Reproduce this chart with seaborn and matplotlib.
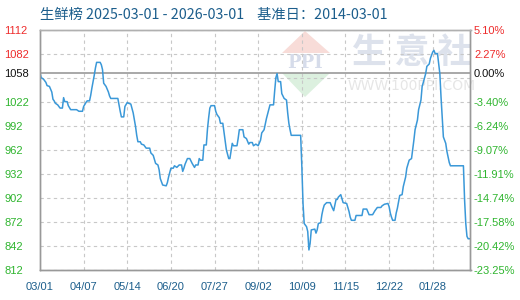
import matplotlib
matplotlib.use("Agg")
import matplotlib.pyplot as plt
import matplotlib.patches as mpatches
import numpy as np
import pandas as pd
import seaborn as sns

# ---------------- data ----------------
start_date = "2025-03-01"
end_date = "2026-03-01"
base_value = 1058
title_text = "生鲜榜 2025-03-01 - 2026-03-01    基准日：2014-03-01"

day_offset = [0, 1, 3, 5, 6, 8, 10, 11, 12, 13, 15, 17, 19, 20, 21, 23, 24, 26, 29, 31,
              33, 36, 37, 39, 40, 42, 43, 44, 45, 46, 47, 48, 51, 52, 53, 54, 56, 58, 59, 60,
              66, 67, 68, 69, 71, 72, 74, 75, 77, 79, 81, 82, 83, 85, 86, 88, 90, 93, 94, 96,
              98, 100, 101, 102, 104, 107, 108, 109, 111, 113, 114, 116, 118, 120, 121, 122, 123, 125, 127, 129,
              131, 132, 134, 135, 136, 138, 139, 141, 142, 143, 144, 145, 148, 149, 150, 152, 153, 155, 156, 157,
              158, 160, 161, 163, 164, 167, 168, 169, 172, 173, 175, 177, 178, 180, 181, 183, 185, 187, 188, 190,
              192, 194, 195, 198, 199, 200, 201, 202, 204, 205, 207, 209, 210, 211, 212, 213, 221, 222, 223, 224,
              226, 227, 228, 229, 230, 233, 234, 235, 236, 238, 239, 240, 241, 243, 246, 248, 249, 250, 251, 252,
              253, 255, 256, 257, 260, 262, 263, 264, 267, 268, 273, 274, 277, 279, 282, 284, 286, 289, 290, 292,
              295, 296, 297, 298, 299, 301, 302, 303, 305, 307, 308, 310, 311, 313, 315, 317, 318, 320, 321, 323,
              324, 325, 327, 328, 330, 331, 333, 334, 335, 337, 339, 340, 341, 342, 344, 345, 347, 348, 359, 360,
              361, 362, 363, 365]

price = [1058, 1052, 1050, 1046, 1042, 1041, 1034, 1025, 1023, 1020, 1018, 1014, 1014, 1027, 1022, 1022, 1017, 1012, 1012, 1012,
         1010, 1010, 1016, 1021, 1023, 1023, 1030, 1039, 1047, 1055, 1064, 1071, 1071, 1068, 1062, 1045, 1041, 1034, 1029, 1026,
         1026, 1018, 1010, 1003, 1003, 1016, 1021, 1020, 1019, 1008, 991, 980, 972, 972, 969, 968, 964, 964, 958, 955,
         945, 943, 937, 926, 918, 917, 921, 928, 939, 939, 942, 940, 943, 943, 935, 939, 944, 951, 951, 945,
         940, 943, 943, 951, 949, 949, 968, 968, 988, 1002, 1014, 1017, 1017, 1010, 1006, 1002, 995, 995, 984, 972,
         962, 951, 951, 970, 967, 967, 976, 987, 987, 978, 976, 969, 971, 971, 967, 969, 967, 974, 983, 987,
         1001, 1012, 1018, 1018, 1036, 1052, 1057, 1047, 1047, 1032, 1026, 1024, 1008, 995, 987, 980, 980, 941, 895, 870,
         866, 860, 837, 845, 862, 863, 858, 862, 870, 871, 881, 888, 893, 896, 896, 889, 886, 893, 900, 900,
         903, 906, 901, 896, 895, 885, 878, 874, 874, 880, 880, 888, 888, 881, 881, 886, 890, 890, 892, 894,
         895, 891, 883, 878, 874, 874, 883, 889, 905, 906, 916, 928, 939, 949, 951, 974, 987, 999, 1012, 1024,
         1041, 1046, 1057, 1066, 1069, 1076, 1084, 1086, 1082, 1082, 1057, 1028, 1003, 978, 970, 960, 946, 942, 942, 899,
         870, 854, 851, 851]

ytick_values = [1112, 1082, 1058, 1022, 992, 962, 932, 902, 872, 842, 812]
ygrid_values = [1112, 1082, 1052, 1022, 992, 962, 932, 902, 872, 842, 812]
xtick_labels = ["03/01", "04/07", "05/14", "06/20", "07/27", "09/02", "10/09", "11/15", "12/22", "01/28"]
xtick_step_days = 37
watermark_text = "生 意 社"
watermark_url = "WWW.100PPI.COM"
logo_text = "PPI"

assert len(day_offset) == len(price)

# ---------------- styling constants ----------------
W, H, DPI = 520, 300, 100
RED = "#ee2c2c"
GREEN = "#2fb52f"
BLACK = "#111111"
BLUE_TXT = "#1c5e8c"
LINE = "#3a98d8"
GRID = "#c8c8c8"
AXIS = "#999999"
CJK = ["Noto Sans CJK SC", "DejaVu Sans"]

sns.set_theme(style="white")
plt.rcParams["font.family"] = ["Liberation Sans", "DejaVu Sans"]

t0 = pd.Timestamp(start_date)
df = pd.DataFrame({
    "date": t0 + pd.to_timedelta(day_offset, unit="D"),
    "price": price,
})

fig = plt.figure(figsize=(W / DPI, H / DPI), dpi=DPI)
ax = fig.add_axes([40 / W, 1 - 270 / H, (470.5 - 40) / W, (270 - 29.5) / H])
ax.set_facecolor("white")

wm_tr = fig.transFigure
def fx(px):
    return px / W
def fy(py):
    return 1 - py / H

# watermark (behind everything)
ax.text(fx(412), fy(52), watermark_text, transform=wm_tr, ha="center", va="center",
        fontsize=25, fontweight="bold", color="#dde2ec", family=CJK, zorder=0)
ax.text(fx(412), fy(86), watermark_url, transform=wm_tr, ha="center", va="center",
        fontsize=10, color="#e6e6e6", family=["DejaVu Sans"], zorder=0)
red_tri = mpatches.Polygon([(fx(282), fy(53)), (fx(330), fy(53)), (fx(305), fy(31))],
                           closed=True, transform=wm_tr, facecolor="#f8dcd8", edgecolor="none", zorder=0)
green_tri = mpatches.Polygon([(fx(282), fy(73)), (fx(330), fy(73)), (fx(305), fy(97))],
                             closed=True, transform=wm_tr, facecolor="#dcf0df", edgecolor="none", zorder=0)
ax.add_patch(red_tri)
ax.add_patch(green_tri)
ax.text(fx(305), fy(63), logo_text, transform=wm_tr, ha="center", va="center",
        fontsize=13, fontweight="bold", color="#d6dcea", family=["DejaVu Serif"], zorder=0)

# grid lines
for g in ygrid_values:
    ax.axhline(g, color=GRID, lw=0.8, ls=(0, (3, 3)), zorder=0.5)
xtick_dates = [t0 + pd.Timedelta(days=xtick_step_days * i) for i in range(len(xtick_labels))]
for d in xtick_dates[1:]:
    ax.axvline(d, color=GRID, lw=0.8, ls=(0, (3, 3)), zorder=0.5)

# base line
ax.axhline(base_value, color=AXIS, lw=1.2, zorder=1)

# data line
sns.lineplot(data=df, x="date", y="price", ax=ax, color=LINE, lw=1.1, zorder=3)

ax.set_xlim(t0, pd.Timestamp(end_date))
ax.set_ylim(812, 1112)
ax.set_xlabel("")
ax.set_ylabel("")

ax.set_xticks(xtick_dates)
ax.set_xticklabels(xtick_labels)
ax.tick_params(axis="x", length=0, pad=8.5, labelsize=8, labelcolor=BLUE_TXT)

def val_color(v):
    if v > base_value:
        return RED
    if v == base_value:
        return BLACK
    return GREEN

ax.set_yticks(ytick_values)
ax.set_yticklabels([str(v) for v in ytick_values])
ax.tick_params(axis="y", length=0, pad=25.5, labelsize=8)
for lbl, v in zip(ax.get_yticklabels(), ytick_values):
    lbl.set_color(val_color(v))
    lbl.set_horizontalalignment("left")

ax2 = ax.twinx()
ax2.set_ylim(812, 1112)
ax2.set_yticks(ytick_values)
ax2.set_yticklabels([f"{(v / base_value - 1) * 100:.2f}%" for v in ytick_values])
ax2.tick_params(axis="y", length=0, pad=2.5, labelsize=8)
for lbl, v in zip(ax2.get_yticklabels(), ytick_values):
    lbl.set_color(val_color(v))
ax2.grid(False)
ax.grid(False)

for a in (ax, ax2):
    for side in ("left", "right", "bottom", "top"):
        a.spines[side].set_visible(True)
        a.spines[side].set_color(AXIS)
        a.spines[side].set_linewidth(1.0)
ax.spines["top"].set_color("#b0b0b0")
ax2.spines["top"].set_color("#b0b0b0")

fig.text(40 / W, 1 - 15 / H, title_text, ha="left", va="center", fontsize=10.3,
         color=BLUE_TXT, family=CJK)

fig.savefig("out.png", dpi=DPI)
